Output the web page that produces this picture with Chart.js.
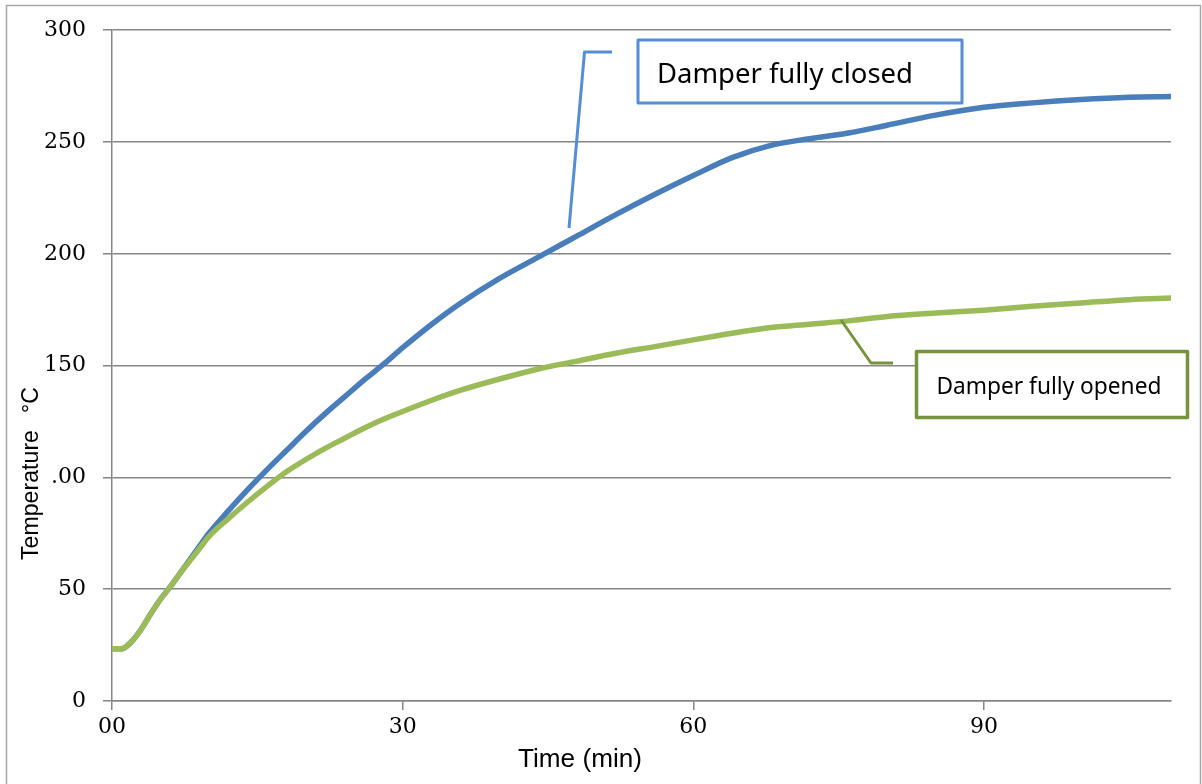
<!DOCTYPE html>
<html>
<head>
<meta charset="utf-8">
<script src="https://cdn.jsdelivr.net/npm/chart.js@4.4.1/dist/chart.umd.min.js"></script>
<style>
  html, body { margin: 0; padding: 0; background: #ffffff; }
  canvas { display: block; }
</style>
</head>
<body>
<canvas id="c" width="1202" height="784"></canvas>
<script>
// ---- data ----
const timeMin = [0,1,2,3,4,5,6,7,8,9,10,12,14,16,18,20,22,24,26,28,30,33,36,40,44,48,52,56,60,64,68,72,76,80,85,90,95,100,105,109.3];
const damperClosed = [23.4,23.4,26.5,32,39,45.5,51,57,63,69,75,85,94.5,103.5,112,120.5,128.5,136,143.5,150.5,158,168.5,178,189,198.5,208,217.5,226.5,235,243,248.5,251.5,254,257.5,262,265.5,267.5,269,270,270.3];
const damperOpened = [23.4,23.4,26.5,32,39,45.5,51,57,62.5,68,73.5,81.5,89,96,102.5,108,113,117.5,122,126,129.5,134.5,139,144,148.5,152,155.5,158.5,161.5,164.5,167,168.5,170,172,173.5,174.8,176.5,178,179.5,180.2];
const xTickValues = [0,30,60,90];
const xTickLabels = ['00','30','60','90'];
const yTickValues = [0,50,100,150,200,250,300];
const yTickLabels = ['0','50','.00','150','200','250','300'];
const seriesNames = ['Damper fully opened','Damper fully closed'];
const axisTitles = { x: 'Time (min)', y1: 'Temperature', y2: '°C' };

const toXY = (vals) => timeMin.map((t, i) => ({ x: t, y: vals[i] }));

function fitFont(ctx, text, family, targetWidth) {
  ctx.font = '100px ' + family;
  const w = ctx.measureText(text).width;
  return (100 * targetWidth / w).toFixed(2) + 'px ' + family;
}

const decor = {
  id: 'decor',
  beforeDraw(chart) {
    const ctx = chart.ctx;
    ctx.save();
    ctx.fillStyle = '#ffffff';
    ctx.fillRect(0, 0, chart.width, chart.height);
    ctx.restore();
  },
  afterDraw(chart) {
    const ctx = chart.ctx;
    ctx.save();
    // outer frame
    ctx.strokeStyle = '#a6a6a6';
    ctx.lineWidth = 1.5;
    ctx.strokeRect(6.5, 5.5, 1194, 800);

    // axis titles
    ctx.fillStyle = '#000000';
    ctx.textBaseline = 'alphabetic';
    ctx.textAlign = 'left';
    ctx.font = fitFont(ctx, axisTitles.x, '"Liberation Sans", Arial, sans-serif', 124);
    ctx.fillText(axisTitles.x, 518, 767);

    ctx.save();
    ctx.translate(38, 560);
    ctx.rotate(-Math.PI / 2);
    ctx.font = fitFont(ctx, axisTitles.y1, '"Liberation Sans", Arial, sans-serif', 130);
    ctx.fillText(axisTitles.y1, 0, 0);
    ctx.textAlign = 'right';
    ctx.fillText(axisTitles.y2, 173, 0);
    ctx.restore();

    // annotation: damper fully closed
    ctx.lineJoin = 'round';
    ctx.lineCap = 'butt';
    ctx.strokeStyle = '#558ed5';
    ctx.lineWidth = 3;
    ctx.beginPath();
    ctx.moveTo(569, 228);
    ctx.lineTo(584.5, 52);
    ctx.lineTo(612, 52);
    ctx.stroke();
    ctx.fillStyle = '#ffffff';
    ctx.fillRect(638, 40, 324, 63);
    ctx.strokeRect(638, 40, 324, 63);
    ctx.fillStyle = '#000000';
    ctx.textAlign = 'left';
    ctx.font = fitFont(ctx, seriesNames[1], '"Noto Sans", sans-serif', 256);
    ctx.fillText(seriesNames[1], 657, 83);

    // annotation: damper fully opened
    ctx.strokeStyle = '#77933c';
    ctx.lineWidth = 3;
    ctx.beginPath();
    ctx.moveTo(841, 320);
    ctx.lineTo(871, 363);
    ctx.lineTo(893, 363);
    ctx.stroke();
    ctx.fillStyle = '#ffffff';
    ctx.fillRect(916.5, 351.5, 271, 66);
    ctx.lineWidth = 3.5;
    ctx.strokeRect(916.5, 351.5, 271, 66);
    ctx.fillStyle = '#000000';
    ctx.font = fitFont(ctx, seriesNames[0], '"Noto Sans", sans-serif', 225);
    ctx.fillText(seriesNames[0], 936.5, 394);
    ctx.restore();
  }
};

new Chart(document.getElementById('c'), {
  type: 'line',
  data: {
    datasets: [
      {
        label: seriesNames[0],
        data: toXY(damperOpened),
        borderColor: '#9bbb59',
        backgroundColor: '#9bbb59',
        borderWidth: 5.5,
        pointRadius: 0,
        cubicInterpolationMode: 'monotone',
        borderCapStyle: 'round',
        borderJoinStyle: 'round'
      },
      {
        label: seriesNames[1],
        data: toXY(damperClosed),
        borderColor: '#4a7ebb',
        backgroundColor: '#4a7ebb',
        borderWidth: 5.5,
        pointRadius: 0,
        cubicInterpolationMode: 'monotone',
        borderCapStyle: 'round',
        borderJoinStyle: 'round'
      }
    ]
  },
  options: {
    responsive: false,
    animation: false,
    devicePixelRatio: 1,
    layout: { padding: { top: 25, right: 31, left: 0, bottom: 0 } },
    plugins: { legend: { display: false }, tooltip: { enabled: false }, title: { display: false } },
    scales: {
      x: {
        type: 'linear',
        min: 0,
        max: 109.3,
        afterFit(scale) { scale.height = 83; },
        afterBuildTicks(scale) { scale.ticks = xTickValues.map(v => ({ value: v })); },
        grid: { drawOnChartArea: false, drawTicks: true, tickLength: 9, color: '#868686', lineWidth: 1.5 },
        border: { display: true, color: '#868686', width: 1.5 },
        ticks: {
          padding: 4,
          maxRotation: 0,
          autoSkip: false,
          color: '#000000',
          font: { family: '"DejaVu Serif", serif', size: 22 },
          callback: (v) => { const i = xTickValues.indexOf(v); return i >= 0 ? xTickLabels[i] : ''; }
        }
      },
      y: {
        type: 'linear',
        min: 0,
        max: 300,
        afterFit(scale) { scale.width = 112; },
        afterBuildTicks(scale) { scale.ticks = yTickValues.map(v => ({ value: v })); },
        grid: { drawOnChartArea: true, drawTicks: true, tickLength: 9, color: '#868686', lineWidth: 1.5 },
        border: { display: true, color: '#868686', width: 1.5 },
        ticks: {
          padding: 17,
          color: '#000000',
          font: { family: '"DejaVu Serif", serif', size: 22 },
          callback: (v) => { const i = yTickValues.indexOf(v); return i >= 0 ? yTickLabels[i] : ''; }
        }
      }
    }
  },
  plugins: [decor]
});
</script>
</body>
</html>
